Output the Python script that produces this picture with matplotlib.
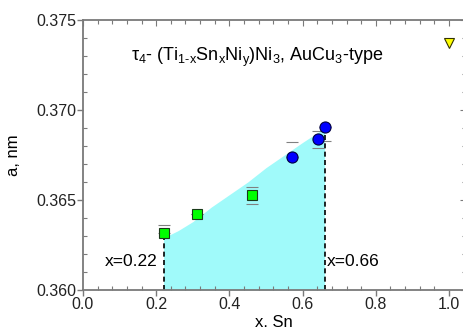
import numpy as np
import matplotlib.pyplot as plt
from matplotlib.ticker import MultipleLocator

plt.rcParams['font.family'] = ['Liberation Sans', 'DejaVu Sans']
plt.rcParams['mathtext.fontset'] = 'custom'
plt.rcParams['mathtext.rm'] = 'Liberation Sans'
plt.rcParams['mathtext.it'] = 'Liberation Sans:italic'
plt.rcParams['mathtext.default'] = 'regular'

# data
sq_x = [0.220, 0.311, 0.462]
sq_y = [0.36318, 0.36422, 0.36526]
sq_err_lo = [0.0, 0.0, 0.00046]
sq_err_hi = [0.00043, 0.0, 0.00046]

ci_x = [0.571, 0.641, 0.661]
ci_y = [0.36741, 0.36837, 0.36904]
ci_err_lo = [0.0, 0.00047, 0.00074]
ci_err_hi = [0.0008, 0.00047, 0.0]

tri_x = [1.0]
tri_y = [0.37370]

# upper border of the shaded homogeneity range
area_x = [0.22, 0.26, 0.30, 0.35, 0.40, 0.45, 0.50, 0.55, 0.60, 0.66]
area_y = [0.3629, 0.3633, 0.3638, 0.3646, 0.3653, 0.3660, 0.3668, 0.3675, 0.3682, 0.3690]

x_lo, x_hi = 0.22, 0.66

fig = plt.figure(figsize=(4.64, 3.29), dpi=100)
ax = fig.add_axes([83/464, 39/329, 382.5/464, 270/329])

ax.fill_between(area_x, 0.360, area_y, color='#a0fafa', lw=0, zorder=1)
ax.plot([x_lo, x_lo], [0.360, sq_y[0]], 'k--', lw=1.2, dashes=(3, 2), zorder=2)
ax.plot([x_hi, x_hi], [0.360, 0.3688], 'k--', lw=1.2, dashes=(3, 2), zorder=2)

ax.errorbar(sq_x, sq_y, yerr=[sq_err_lo, sq_err_hi], fmt='s', ms=6.5,
            mfc='#00ff00', mec='#1a3a1a', mew=0.8, ecolor='#808080',
            elinewidth=0, capsize=4, capthick=0.8, zorder=3)
ax.errorbar(ci_x, ci_y, yerr=[ci_err_lo, ci_err_hi], fmt='o', ms=8,
            mfc='#0000ff', mec='#000040', mew=0.8, ecolor='#808080',
            elinewidth=0, capsize=4, capthick=0.8, zorder=3)
ax.plot(tri_x, tri_y, 'v', ms=7, mfc='#ffff00', mec='#333300', mew=0.8, zorder=3)

ax.text(0.205, 0.3616, 'x=0.22', ha='right', va='center', fontsize=12.5)
ax.text(0.667, 0.3616, 'x=0.66', ha='left', va='center', fontsize=12.5)
ax.text(0.475, 0.3729,
        r'$\tau_4$- (Ti$_{1\text{-}x}$Sn$_x$Ni$_y$)Ni$_3$, AuCu$_3$-type',
        ha='center', va='center', fontsize=13)

ax.set_xlim(0, 1.045)
ax.set_ylim(0.360, 0.375)
ax.xaxis.set_major_locator(MultipleLocator(0.2))
ax.xaxis.set_minor_locator(MultipleLocator(0.04))
ax.yaxis.set_major_locator(MultipleLocator(0.005))
ax.yaxis.set_minor_locator(MultipleLocator(0.001))
ax.xaxis.set_major_formatter(plt.FormatStrFormatter('%.1f'))
ax.yaxis.set_major_formatter(plt.FormatStrFormatter('%.3f'))

spine_col = '#7a7a7a'
for s in ax.spines.values():
    s.set_color(spine_col)
    s.set_linewidth(1.3)
ax.tick_params(which='major', direction='out', length=4, width=1, color=spine_col,
               labelsize=11.5, labelcolor='#222222', pad=1)
ax.tick_params(which='minor', direction='in', length=3, width=0.8, color=spine_col)

top = ax.secondary_xaxis('top')
top.xaxis.set_major_locator(MultipleLocator(0.2))
top.xaxis.set_minor_locator(MultipleLocator(0.04))
top.tick_params(which='both', direction='in', labeltop=False, color=spine_col, width=0.8)
top.tick_params(which='major', length=4)
top.tick_params(which='minor', length=3)
top.spines['top'].set_visible(False)
right = ax.secondary_yaxis('right')
right.yaxis.set_major_locator(MultipleLocator(0.005))
right.yaxis.set_minor_locator(MultipleLocator(0.001))
right.tick_params(which='both', direction='in', labelright=False, color=spine_col, width=0.8)
right.tick_params(which='major', length=4)
right.tick_params(which='minor', length=3)
right.spines['right'].set_visible(False)

ax.set_xlabel('x. Sn', fontsize=12, labelpad=2)
ax.set_ylabel('a, nm', fontsize=12, labelpad=11)

fig.savefig('out.png', dpi=100)
